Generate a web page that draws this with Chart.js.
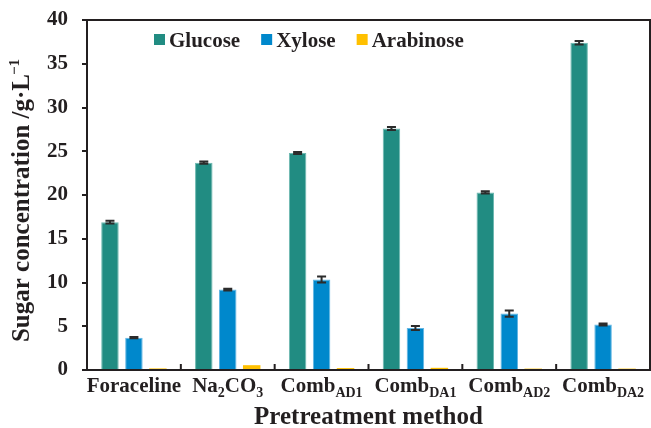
<!DOCTYPE html>
<html>
<head>
<meta charset="utf-8">
<script src="https://cdn.jsdelivr.net/npm/chart.js@4.4.1/dist/chart.umd.min.js"></script>
<style>
  html, body { margin: 0; padding: 0; background: #ffffff; }
  #wrap { width: 651px; height: 428px; position: relative; }
</style>
</head>
<body>
<div id="wrap"><canvas id="chart"></canvas></div>
<script>
// Pretreatment methods (category keys)
const categories = ['Foraceline', 'Na2CO3', 'CombAD1', 'CombDA1', 'CombAD2', 'CombDA2'];
// Drawn category labels: [text, 'sub'] marks a subscript run
const categoryLabels = [
  [['Foraceline', '']],
  [['Na', ''], ['2', 'sub'], ['CO', ''], ['3', 'sub']],
  [['Comb', ''], ['AD1', 'sub']],
  [['Comb', ''], ['DA1', 'sub']],
  [['Comb', ''], ['AD2', 'sub']],
  [['Comb', ''], ['DA2', 'sub']]
];

// Sugar concentrations, g/L
const glucose      = [16.9, 23.7, 24.8, 27.6, 20.3, 37.4];
const glucoseErr   = [0.15, 0.12, 0.12, 0.18, 0.12, 0.2];
const xylose       = [3.7, 9.2, 10.35, 4.8, 6.45, 5.2];
const xyloseErr    = [0.08, 0.1, 0.35, 0.22, 0.35, 0.12];
const arabinose    = [0.18, 0.55, 0.22, 0.25, 0.16, 0.16];
const arabinoseErr = [0, 0, 0, 0, 0, 0];

const seriesNames = ['Glucose', 'Xylose', 'Arabinose'];
const yMin = 0, yMax = 40, yStep = 5;

const INK = '#231f20';
const SERIF = '"Liberation Serif", "Times New Roman", serif';

// Error bars drawn from each dataset's err array through the value scale
const errorBars = {
  id: 'errorBars',
  afterDatasetsDraw(chart) {
    const { ctx } = chart;
    const yScale = chart.scales.y;
    chart.data.datasets.forEach((ds, di) => {
      const meta = chart.getDatasetMeta(di);
      if (!ds.err) return;
      meta.data.forEach((bar, i) => {
        const e = ds.err[i];
        if (!e) return;
        const v = ds.data[i];
        const yTop = yScale.getPixelForValue(v + e);
        const yBot = yScale.getPixelForValue(v - e);
        const half = 4.5;
        ctx.save();
        ctx.strokeStyle = '#2b2b2b';
        ctx.lineWidth = 2;
        ctx.beginPath();
        ctx.moveTo(bar.x, yTop); ctx.lineTo(bar.x, yBot);
        ctx.moveTo(bar.x - half, yTop); ctx.lineTo(bar.x + half, yTop);
        ctx.moveTo(bar.x - half, yBot); ctx.lineTo(bar.x + half, yBot);
        ctx.stroke();
        ctx.restore();
      });
    });
  }
};

// Frame, inward category ticks, labels, titles and legend
const decorations = {
  id: 'decorations',
  afterDraw(chart) {
    const { ctx, chartArea: a } = chart;
    const xScale = chart.scales.x;
    ctx.save();

    // top and right frame lines
    ctx.strokeStyle = INK;
    ctx.lineWidth = 2;
    ctx.beginPath();
    ctx.moveTo(a.left, a.top); ctx.lineTo(a.right, a.top); ctx.lineTo(a.right, a.bottom);
    ctx.stroke();

    // tick marks between categories, pointing into the plot
    ctx.lineWidth = 2;
    ctx.beginPath();
    for (let i = 1; i < categories.length; i++) {
      const x = (xScale.getPixelForValue(i - 1) + xScale.getPixelForValue(i)) / 2;
      ctx.moveTo(x, a.bottom); ctx.lineTo(x, a.bottom - 6);
    }
    ctx.stroke();

    // category labels with subscripts
    const mainFont = 'bold 21px ' + SERIF;
    const subFont = 'bold 14px ' + SERIF;
    ctx.fillStyle = INK;
    ctx.textBaseline = 'alphabetic';
    ctx.textAlign = 'left';
    categoryLabels.forEach((parts, i) => {
      let total = 0;
      parts.forEach(([t, k]) => { ctx.font = k ? subFont : mainFont; total += ctx.measureText(t).width; });
      let x = xScale.getPixelForValue(i) - total / 2;
      const base = a.bottom + 22;
      parts.forEach(([t, k]) => {
        ctx.font = k ? subFont : mainFont;
        ctx.fillText(t, x, k ? base + 5 : base);
        x += ctx.measureText(t).width;
      });
    });

    // x-axis title
    ctx.font = 'bold 25px ' + SERIF;
    ctx.textAlign = 'center';
    ctx.fillText('Pretreatment method', (a.left + a.right) / 2, a.bottom + 54);

    // y-axis title with superscript
    const yMain = 'Sugar concentration /g\u00b7L';
    const ySup = '\u22121';
    const mainY = 'bold 25px ' + SERIF;
    const supY = 'bold 15px ' + SERIF;
    ctx.font = mainY;
    const wMain = ctx.measureText(yMain).width;
    ctx.font = supY;
    const wSup = ctx.measureText(ySup).width;
    ctx.save();
    ctx.translate(29, (a.top + a.bottom) / 2 + 5);
    ctx.rotate(-Math.PI / 2);
    ctx.textAlign = 'left';
    const start = -(wMain + wSup) / 2;
    ctx.font = mainY;
    ctx.fillText(yMain, start, 0);
    ctx.font = supY;
    ctx.fillText(ySup, start + wMain - 1, -10);
    ctx.restore();

    // legend
    ctx.font = 'bold 21px ' + SERIF;
    ctx.textAlign = 'left';
    let lx = a.left + 67;
    chart.data.datasets.forEach((ds) => {
      ctx.fillStyle = ds.backgroundColor;
      ctx.fillRect(lx, a.top + 14, 11, 11);
      lx += 15;
      ctx.fillStyle = INK;
      ctx.fillText(ds.label, lx, a.top + 27);
      lx += ctx.measureText(ds.label).width + 21;
    });

    ctx.restore();
  }
};

const barStyle = {
  categoryPercentage: 0.766,
  barPercentage: 0.73,
  borderWidth: 1,
  borderSkipped: 'bottom'
};

new Chart(document.getElementById('chart'), {
  type: 'bar',
  data: {
    labels: categories,
    datasets: [
      Object.assign({ label: seriesNames[0], data: glucose, err: glucoseErr,
        backgroundColor: '#218c82', borderColor: '#6cb8b0' }, barStyle),
      Object.assign({ label: seriesNames[1], data: xylose, err: xyloseErr,
        backgroundColor: '#0088cc', borderColor: '#62b6e4' }, barStyle),
      Object.assign({ label: seriesNames[2], data: arabinose, err: arabinoseErr,
        backgroundColor: '#ffc000' }, barStyle, { borderWidth: 0 })
    ]
  },
  options: {
    responsive: true,
    maintainAspectRatio: false,
    animation: false,
    layout: { padding: { top: 20, right: 1, left: 0, bottom: 0 } },
    plugins: { legend: { display: false }, tooltip: { enabled: false } },
    scales: {
      x: {
        ticks: { display: false },
        grid: { display: false },
        border: { display: true, color: INK, width: 2 },
        afterFit(scale) { scale.height = 58; }
      },
      y: {
        min: yMin,
        max: yMax,
        ticks: {
          stepSize: yStep,
          padding: 14,
          color: INK,
          font: { family: SERIF, size: 21, weight: 'bold' }
        },
        grid: { drawOnChartArea: false, drawTicks: true, tickLength: 5, color: INK, lineWidth: 2 },
        border: { display: true, color: INK, width: 2 },
        afterFit(scale) {
          scale.width = 87;
          scale.paddingTop = 0;
          scale.paddingBottom = 0;
        }
      }
    }
  },
  plugins: [errorBars, decorations]
});
</script>
</body>
</html>
